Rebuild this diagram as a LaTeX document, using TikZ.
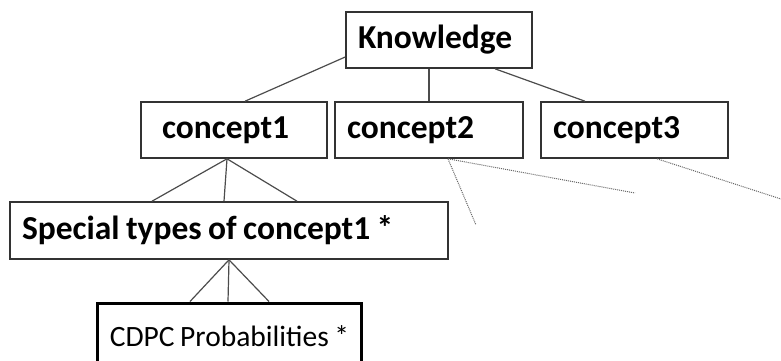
\documentclass[tikz,border=0pt]{standalone}
\usepackage{fontspec}
\setmainfont{Carlito}
\usepackage{tikz}
\usetikzlibrary{positioning,calc}
\newcommand\tightsp{\spaceskip=0.19em\relax}

\begin{document}
\begin{tikzpicture}[
  x=1pt, y=-1pt,
  font=\fontsize{33.5}{36}\selectfont\bfseries,
  box/.style={draw=black!80, line width=1.6pt, inner xsep=12pt, align=left, anchor=center, minimum height=56pt},
  link/.style={draw=black!70, line width=1.2pt},
  hint/.style={draw=black!60, line width=1pt, densely dotted}
]
  \useasboundingbox (0,0) rectangle (781,360);
  \clip (0,0) rectangle (781,360);

  \node[box, text width=162pt] (know) at (439,40) {Knowledge};
  \node[box, inner xsep=21pt, text width=144pt] (c1) at (234,130) {concept1};
  \node[box, text width=164pt] (c2) at (429,130) {concept2};
  \node[box, text width=163pt] (c3) at (634.5,130) {concept3};
  \node[box, text width=414pt, minimum height=57pt] (spec) at (229,230.5) {\tightsp Special types of concept1 *};
  \node[box, draw=black, line width=3pt, font=\fontsize{29.5}{32}\selectfont\tightsp, minimum width=263pt, minimum height=66pt] (cdpc) at (229.5,336) {CDPC Probabilities *};

  % tree links
  \draw[link] ([yshift=-17pt]know.west) -- ([xshift=11pt]c1.north);
  \draw[link] (c2.north |- know.south) -- (c2.north);
  \draw[link] ([xshift=56pt]know.south) -- ([xshift=-49.5pt]c3.north);
  \foreach \s in {-77,-5,68} \draw[link] ([xshift=-7pt]c1.south) -- ([xshift=\s pt]spec.north);
  \foreach \s in {-39.5,-1.5,39.5} \draw[link] (spec.south) -- ([xshift=\s pt]cdpc.north);

  % open ends
  \coordinate (c2a) at (635,193);
  \coordinate (c2b) at (476,225);
  \coordinate (c3a) at (781,199);
  \draw[hint] ([xshift=19pt]c2.south) -- (c2a);
  \draw[hint] ([xshift=19pt]c2.south) -- (c2b);
  \draw[hint] ([xshift=22.5pt]c3.south) -- (c3a);
\end{tikzpicture}
\end{document}
